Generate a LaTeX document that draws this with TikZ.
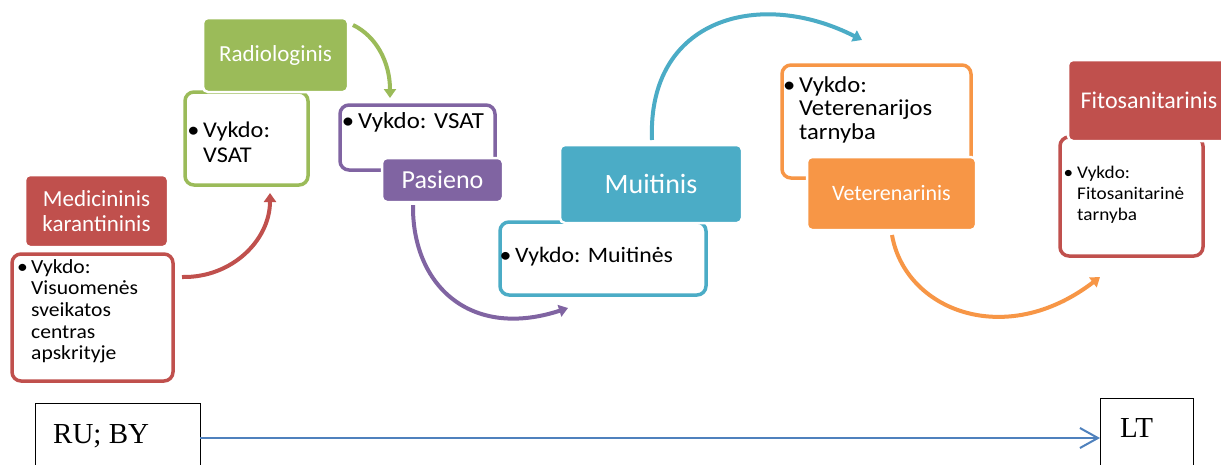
\documentclass[tikz,border=0pt]{standalone}
\usepackage{fontspec}
\setmainfont{Carlito}
\newfontfamily\bodyfont{Carlito}[FakeStretch=1.08]
\newfontfamily\tnr{Liberation Serif}
\usetikzlibrary{arrows.meta}
\definecolor{cred}{HTML}{C0504D}
\definecolor{cgreen}{HTML}{9BBB59}
\definecolor{cpurple}{HTML}{8064A2}
\definecolor{cteal}{HTML}{4BACC6}
\definecolor{corange}{HTML}{F79646}
\definecolor{cblue}{HTML}{4F81BD}
\newcommand{\myfs}[2]{\fontsize{#1}{#2}\selectfont}
\frenchspacing
\begin{document}
\begin{tikzpicture}[x=1pt,y=-1pt,
  tbox/.style={draw=#1, line width=3.5pt, fill=white, rounded corners=9pt, inner sep=0pt, outer sep=0pt},
  ttl/.style={fill=#1, draw=white, line width=2.5pt, rounded corners=5pt, text=white, align=center, inner sep=0pt, outer sep=0pt},
  body/.style={anchor=base west, inner sep=0pt, align=left, text width=#1},
  arcarrow/.style={draw=#1, line width=4pt, -{Triangle[length=9pt,width=12pt]}},
  plainbox/.style={draw=black, line width=0.9pt, fill=white, inner sep=0pt, outer sep=0pt}
]
\useasboundingbox (0,0) rectangle (1221,464);
\fill[white] (0,0) rectangle (1221,464);

% text boxes
\node[tbox=cred, minimum width=161pt, minimum height=127pt] (medtext) at (92.5,317.5) {};
\node[tbox=cgreen, minimum width=123pt, minimum height=93pt] (radtext) at (246.5,138.5) {};
\node[tbox=cpurple, minimum width=155pt, minimum height=65pt] (pastext) at (417.5,137.5) {};
\node[tbox=cteal, minimum width=206pt, minimum height=73pt] (muitext) at (603,258.5) {};
\node[tbox=corange, minimum width=189pt, minimum height=113pt] (vettext) at (876.5,121.5) {};
\node[tbox=cred, minimum width=143pt, minimum height=119pt] (fittext) at (1131.5,196.5) {};

% body texts
\node[body=150pt, font=\bodyfont\myfs{20}{21.7}] (medbody) at (31,273) {\llap{•\,}Vykdo:\\Visuomenės\\sveikatos\\centras\\apskrityje};
\node[body=110pt, font=\bodyfont\myfs{22.5}{25}] (radbody) at (203,137) {\llap{•\,}Vykdo:\\VSAT};
\node[body=150pt, font=\bodyfont\myfs{23}{25}] (pasbody) at (358,128) {\llap{•\,}Vykdo: VSAT};
\node[body=195pt, font=\bodyfont\myfs{22}{25}] (muibody) at (515,262) {\llap{•\,}Vykdo: Muitinės};
\node[body=175pt, font=\bodyfont\myfs{22.8}{23.5}] (vetbody) at (799,92) {\llap{•\,}Vykdo:\\Veterenarijos\\tarnyba};
\node[body=130pt, font=\bodyfont\myfs{17.8}{21}] (fitbody) at (1077,178) {\llap{•\hspace{4pt}}Vykdo:\\Fitosanitarinė\\tarnyba};

% title boxes
\node[ttl=cred, minimum width=143pt, minimum height=72pt, font=\myfs{23}{25}] (medtitle) at (96.5,211) {Medicininis\\karantininis};
\node[ttl=cgreen, minimum width=145pt, minimum height=74pt, font=\myfs{23}{26}] (radtitle) at (275.5,55) {Radiologinis};
\node[ttl=cpurple, minimum width=121pt, minimum height=44pt, font=\myfs{26}{28}] (pastitle) at (442.5,180) {Pasieno};
\node[ttl=cteal, minimum width=182pt, minimum height=78pt, font=\myfs{28}{30}] (muititle) at (651,184) {Muitinis};
\node[ttl=corange, minimum width=169pt, minimum height=73pt, font=\myfs{22}{24}] (vettitle) at (891.5,193.5) {Veterenarinis};
\node[ttl=cred, minimum width=162pt, minimum height=81pt, font=\myfs{24}{26}] (fittitle) at (1149,100.5) {Fitosanitarinis};

% arc connectors
\coordinate (r1) at (182,277); \coordinate (r2) at (270,193);
\coordinate (g1) at (353,25);  \coordinate (g2) at (390,98);
\coordinate (p1) at (413,205); \coordinate (p2) at (568,308);
\coordinate (t1) at (652,140); \coordinate (t2) at (862,40);
\coordinate (o1) at (892,235); \coordinate (o2) at (1100,277);
\draw[arcarrow=cred] (r1) .. controls (232,278) and (270,240) .. (r2);
\draw[arcarrow=cgreen] (g1) .. controls (376,36) and (390,62) .. (g2);
\draw[arcarrow=cpurple] (p1) .. controls (412,285) and (470,340) .. (p2);
\draw[arcarrow=cteal] (t1) .. controls (647,18) and (760,-12) .. (t2);
\draw[arcarrow=corange] (o1) .. controls (905,310) and (1005,350) .. (o2);

% bottom
\node[plainbox, minimum width=165pt, minimum height=70pt] (ru) at (117.5,438) {};
\node[plainbox, minimum width=93pt, minimum height=80pt] (lt) at (1146.5,438) {};
\node[anchor=base west, inner sep=0pt, font=\tnr\myfs{29}{32}] (rutext) at (53,443) {RU; BY};
\node[anchor=base west, inner sep=0pt, font=\tnr\myfs{29}{32}] (lttext) at (1120,437) {LT};
\draw[cblue, line width=2pt, -{Straight Barb[length=18pt,width=20pt,line width=2pt]}] (ru) -- (lt);
\end{tikzpicture}
\end{document}
